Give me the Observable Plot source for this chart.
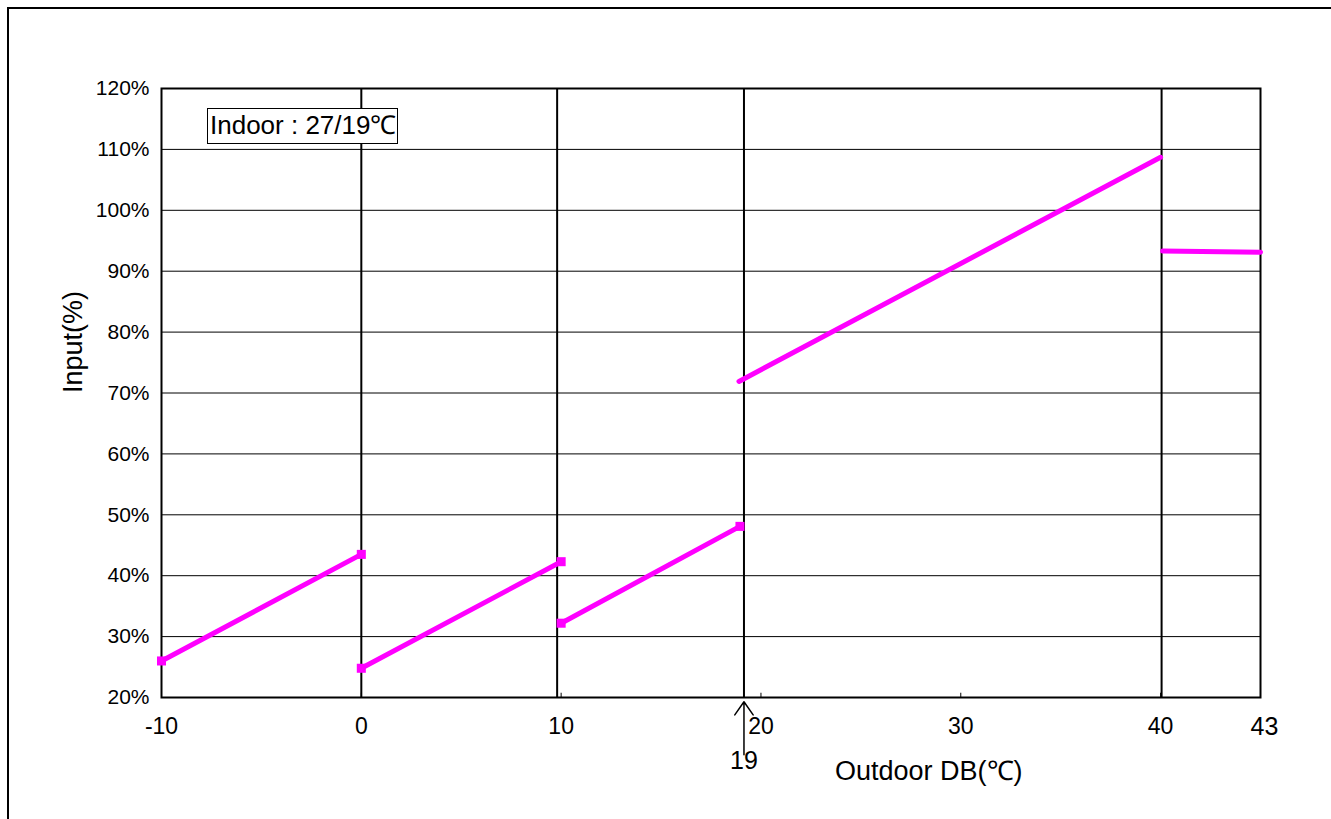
<!DOCTYPE html>
<html>
<head>
<meta charset="utf-8">
<script src="https://cdn.jsdelivr.net/npm/d3@7"></script>
<script src="https://cdn.jsdelivr.net/npm/@observablehq/plot@0.6"></script>
<style>
  body { margin: 0; background: #fff; font-family: "Liberation Sans", Arial, sans-serif; }
  #wrap { position: relative; width: 1331px; height: 819px; overflow: hidden; background: #fff; }
  #border { position: absolute; left: 7px; top: 7px; width: 1400px; height: 900px; border: 2px solid #000; box-sizing: border-box; }
  #chart { position: absolute; left: 0; top: 0; }
  #legend { position: absolute; left: 207px; top: 108px; width: 191px; height: 36px; box-sizing: border-box;
            border: 1.5px solid #000; background: #fff; font-size: 26px; line-height: 33px; padding-left: 2px;
            white-space: nowrap; color: #000; overflow: hidden; }
</style>
</head>
<body>
<div id="wrap">
  <div id="border"></div>
  <div id="chart"></div>
  <div id="legend">Indoor : 27/19℃</div>
</div>
<script>
// Axis ticks
const xTicks = [-10, 0, 10, 20, 30, 40];
const yTicks = [20, 30, 40, 50, 60, 70, 80, 90, 100, 110, 120];
const gridLevels = [30, 40, 50, 60, 70, 80, 90, 100, 110];
// Vertical divider lines (outdoor temperature boundaries)
const dividers = [0, 9.8, 19.15, 40.05];
// Input curve segments
const segmentX = [[-10, 0], [0, 10], [10, 18.95], [18.9, 40], [40.1, 45]];
const segmentY = [[26.0, 43.5], [24.8, 42.3], [32.2, 48.1], [71.9, 108.7], [93.3, 93.1]];
const segmentMarked = [true, true, true, false, false];
// Annotations below the axis
const annotationLabels = ["19", "43"];
const annotationX = [19.15, 45.2];
const annotationDy = [71, 37];
const arrowX = 19.15;

const rows = [];
const markerRows = [];
segmentX.forEach((xs, i) => {
  xs.forEach((x, j) => {
    const r = { seg: i, x, y: segmentY[i][j] };
    rows.push(r);
    if (segmentMarked[i]) markerRows.push(r);
  });
});
const annotations = annotationLabels.map((t, i) => ({ t, x: annotationX[i], dy: annotationDy[i] }));

const chart = Plot.plot({
  width: 1331,
  height: 819,
  marginLeft: 161,
  marginRight: 71,
  marginTop: 88,
  marginBottom: 122,
  x: { domain: [-10, 45] },
  y: { domain: [20, 120] },
  style: { fontFamily: "'Liberation Sans', Arial, sans-serif", background: "transparent", color: "#000" },
  marks: [
    Plot.ruleY(gridLevels, { stroke: "#000", strokeWidth: 1 }),
    Plot.ruleX(dividers, { stroke: "#000", strokeWidth: 2 }),
    Plot.ruleX(xTicks.slice(1), { y1: 20, y2: 20.7, stroke: "#000", strokeWidth: 1 }),
    Plot.frame({ stroke: "#000", strokeWidth: 2 }),
    Plot.line(rows, { x: "x", y: "y", z: "seg", stroke: "#ff00ff", strokeWidth: 5 }),
    Plot.dot(markerRows, { x: "x", y: "y", symbol: "square", r: 5.1, fill: "#ff00ff", stroke: null }),
    Plot.axisX(xTicks, { tickSize: 0, tickPadding: 20, fontSize: 23, tickFormat: d => String(d), label: null }),
    Plot.axisY(yTicks, { tickSize: 0, tickPadding: 12, fontSize: 21, tickFormat: d => d + "%", label: null }),
    Plot.text(["Input(%)"], { text: d => d, frameAnchor: "left", rotate: -90, dx: -88, fontSize: 27 }),
    Plot.text(["Outdoor DB(℃)"], { text: d => d, x: 28.4, frameAnchor: "bottom", dy: 82, fontSize: 27 }),
    ...annotations.map(a => Plot.text([a], { text: "t", x: "x", frameAnchor: "bottom", dy: a.dy, fontSize: 25 })),
    Plot.arrow([{ x: arrowX }], { x1: "x", x2: "x", y1: () => 10.6, y2: () => 19.3, stroke: "#000", strokeWidth: 1.5, headLength: 16, headAngle: 70, clip: false })
  ]
});
document.getElementById("chart").appendChild(chart);
</script>
</body>
</html>
